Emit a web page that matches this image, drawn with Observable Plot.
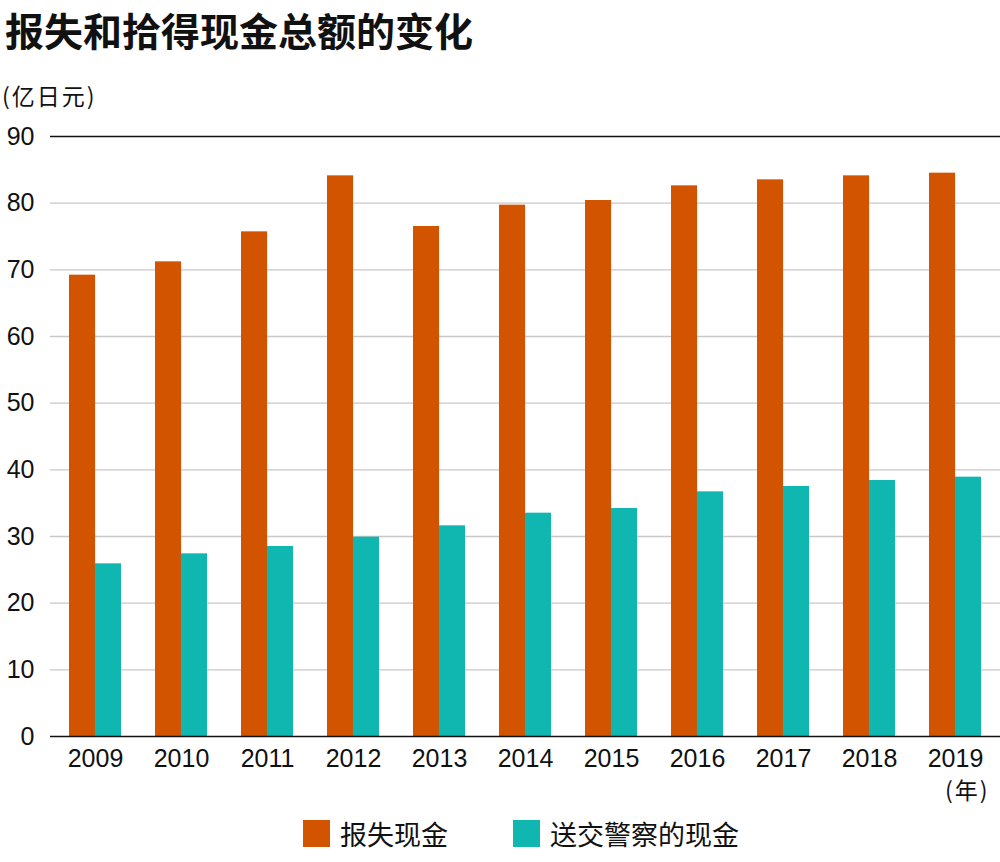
<!DOCTYPE html>
<html>
<head>
<meta charset="utf-8">
<script src="https://cdn.jsdelivr.net/npm/d3@7"></script>
<script src="https://cdn.jsdelivr.net/npm/@observablehq/plot@0.6"></script>
<style>
  html, body { margin: 0; padding: 0; background: #fff; }
  body { width: 1000px; height: 862px; position: relative; overflow: hidden;
         font-family: "Liberation Sans", "Noto Sans CJK SC", sans-serif; color: #111; }
  .abs { position: absolute; line-height: normal; white-space: nowrap; }
  #title { left: 5px; top: 1px; font-size: 39px; font-weight: 700; font-family: "Noto Sans CJK SC", sans-serif; }
  #unit { left: 2px; top: 78px; font-size: 23px; letter-spacing: 2px; font-family: "Noto Sans CJK SC", sans-serif; }
  #chart { left: 0; top: 110px; line-height: 1; }
  #yearlab { left: 945px; top: 772px; font-size: 23px; letter-spacing: 2px; font-family: "Noto Sans CJK SC", sans-serif; }
  .leg { top: 814px; display: flex; align-items: center; font-size: 27px; font-family: "Noto Sans CJK SC", sans-serif; }
  .sw { width: 27px; height: 27px; margin-right: 10px; }
</style>
</head>
<body>
<div id="title" class="abs">报失和拾得现金总额的变化</div>
<div id="unit" class="abs">(亿日元)</div>
<div id="chart" class="abs"></div>
<div id="yearlab" class="abs">(年)</div>
<div id="legend"></div>
<script>
const years = ["2009","2010","2011","2012","2013","2014","2015","2016","2017","2018","2019"];
const lostCash = [69.2, 71.2, 75.7, 84.1, 76.5, 79.7, 80.4, 82.6, 83.5, 84.1, 84.5];
const deliveredCash = [25.9, 27.4, 28.5, 29.9, 31.6, 33.5, 34.2, 36.7, 37.5, 38.4, 38.9];
const yTicks = [0, 10, 20, 30, 40, 50, 60, 70, 80, 90];
const seriesNames = ["报失现金", "送交警察的现金"];
const seriesColors = ["#D35400", "#10B6B0"];

const table = years.map((y, i) => ({year: y, lost: lostCash[i], delivered: deliveredCash[i]}));

const W = 1000, H = 700, mL = 50, mR = 0, mT = 26, mB = 74;
const pInner = 0.4, pOuter = 0.2;
const step = (W - mL - mR) / (years.length - pInner + 2 * pOuter);
const half = step * (1 - pInner) / 2;

const chart = Plot.plot({
  width: W, height: H,
  marginLeft: mL, marginRight: mR, marginTop: mT, marginBottom: mB,
  style: {fontSize: "25px", fontFamily: "'Liberation Sans', 'Noto Sans CJK SC', sans-serif", color: "#111", background: "transparent"},
  x: {type: "band", domain: years, paddingInner: pInner, paddingOuter: pOuter, label: null},
  y: {domain: [0, 90], label: null},
  marks: [
    Plot.ruleY(yTicks.filter(d => d > 0 && d < 90), {stroke: "#c8c8c8", strokeWidth: 1.3}),
    Plot.barY(table, {x: "year", y: "lost", fill: seriesColors[0], insetRight: half}),
    Plot.barY(table, {x: "year", y: "delivered", fill: seriesColors[1], insetLeft: half}),
    Plot.ruleY([0, 90], {stroke: "#111", strokeWidth: 1.6}),
    Plot.axisX({tickSize: 0, tickPadding: 13, fontSize: 25, label: null}),
    Plot.axisY({ticks: yTicks, tickSize: 0, tickPadding: 16, fontSize: 25, label: null})
  ]
});
document.getElementById("chart").appendChild(chart);

const legend = document.getElementById("legend");
const legLefts = [303, 513];
seriesNames.forEach((name, i) => {
  const item = document.createElement("div");
  item.className = "abs leg";
  item.style.left = legLefts[i] + "px";
  const sw = document.createElement("span");
  sw.className = "sw";
  sw.style.background = seriesColors[i];
  const tx = document.createElement("span");
  tx.textContent = name;
  item.appendChild(sw);
  item.appendChild(tx);
  legend.appendChild(item);
});
</script>
</body>
</html>
